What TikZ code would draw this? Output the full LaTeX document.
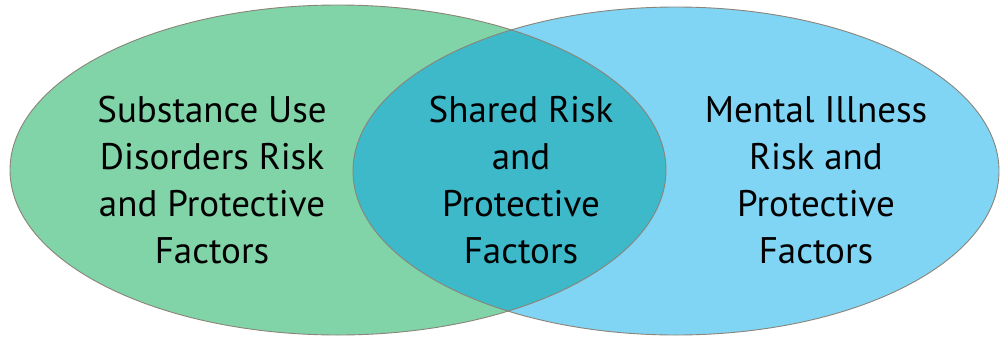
\documentclass[tikz,border=0pt]{standalone}
\usepackage{fontspec}
\setmainfont{PT Sans}
\newlength{\du}
\setlength{\du}{1pt}
\tikzset{
  factortext/.style={align=center, inner sep=0pt, font=\fontsize{37}{47}\selectfont, text=black},
  vennline/.style={draw=dialinestroke, line width=0.9\du},
  sudradius/.style={x radius=328\du, y radius=165\du},
  miradius/.style={x radius=323\du, y radius=164\du}
}
\begin{document}
\begin{tikzpicture}
\pgftransformxscale{1.000000}
\pgftransformyscale{-1.000000}
\definecolor{dialinestroke}{rgb}{0.545000, 0.518000, 0.475000}
\definecolor{dialinegreen}{rgb}{0.502000, 0.831000, 0.659000}
\definecolor{dialineblue}{rgb}{0.502000, 0.831000, 0.957000}
\definecolor{dialineteal}{rgb}{0.239000, 0.725000, 0.792000}
\useasboundingbox (0\du,0\du) rectangle (1000\du,338\du);
\coordinate (sudc) at (338\du,170\du);
\coordinate (mic) at (676\du,171\du);
% substance use circle
\fill[dialinegreen] (sudc) ellipse [sudradius];
% mental illness circle
\fill[dialineblue] (mic) ellipse [miradius];
% shared part
\begin{scope}
\clip (sudc) ellipse [sudradius];
\fill[dialineteal] (mic) ellipse [miradius];
\end{scope}
\draw[vennline] (sudc) ellipse [sudradius];
\draw[vennline] (mic) ellipse [miradius];
% setfont left to latex
\node[factortext] (sudtext) at (212\du,180\du){Substance Use\\Disorders Risk\\and Protective\\Factors};
\node[factortext] (sharedtext) at (521\du,180\du){Shared Risk\\and\\Protective\\Factors};
\node[factortext] (mitext) at (816\du,180\du){Mental Illness\\Risk and\\Protective\\Factors};
\end{tikzpicture}
\end{document}
